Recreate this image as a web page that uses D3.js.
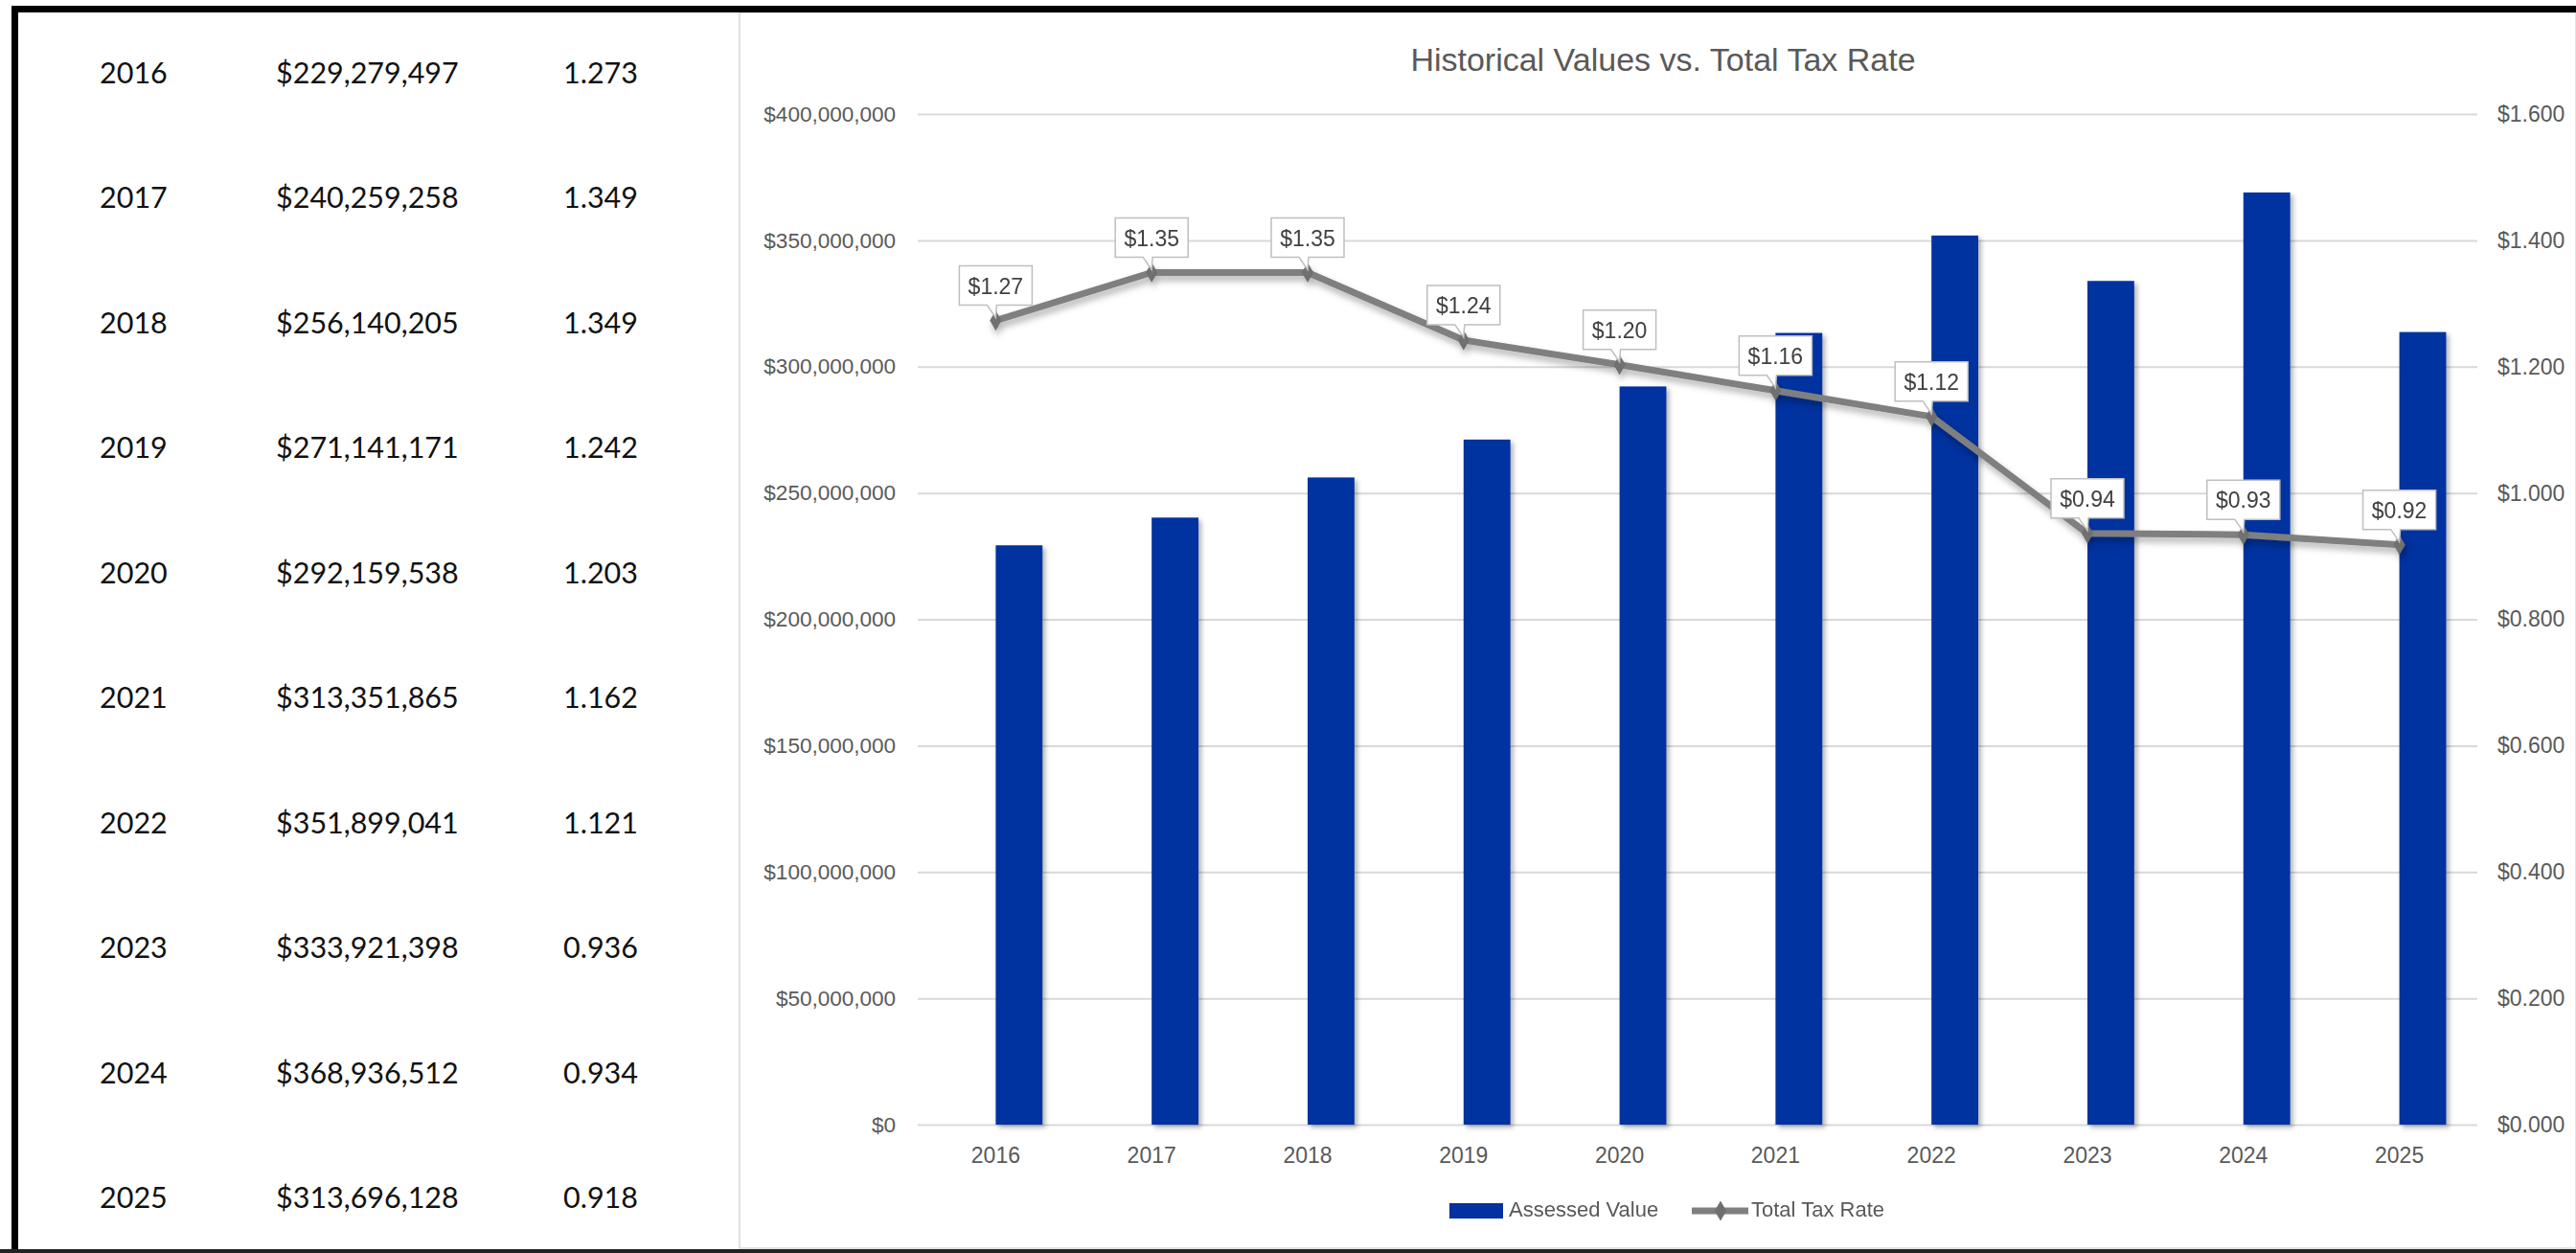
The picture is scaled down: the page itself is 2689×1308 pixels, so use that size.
<!DOCTYPE html>
<html>
<head>
<meta charset="utf-8">
<script src="https://cdn.jsdelivr.net/npm/d3@7"></script>
<style>
  body { margin: 0; background: #fff; }
  svg { display: block; }
</style>
</head>
<body>
<svg id="chart"></svg>
<script>
// data
const years = ["2016", "2017", "2018", "2019", "2020", "2021", "2022", "2023", "2024", "2025"];
const assessedValues = [229279497, 240259258, 256140205, 271141171, 292159538, 313351865, 351899041, 333921398, 368936512, 313696128];
const taxRates = [1.273, 1.349, 1.349, 1.242, 1.203, 1.162, 1.121, 0.936, 0.934, 0.918];
const valueTicks = [0, 50000000, 100000000, 150000000, 200000000, 250000000, 300000000, 350000000, 400000000];
const rateTicks = [0, 0.2, 0.4, 0.6, 0.8, 1.0, 1.2, 1.4, 1.6];

const W = 2689, H = 1308;
const chartFont = "'Liberation Sans', Arial, sans-serif";
const tableFont = "Lato, 'Open Sans', sans-serif";
const barColor = "#0431a0";
const lineColor = "#7f7f7f";
const textGrey = "#595959";

const svg = d3.select("#chart").attr("width", W).attr("height", H);

const defs = svg.append("defs");
defs.append("filter").attr("id", "shadow")
    .attr("x", "-20%").attr("y", "-20%").attr("width", "150%").attr("height", "150%")
  .append("feDropShadow")
    .attr("dx", 3).attr("dy", 3).attr("stdDeviation", 2.5)
    .attr("flood-color", "#000").attr("flood-opacity", 0.3);
defs.append("filter").attr("id", "lineShadow")
    .attr("x", "-10%").attr("y", "-30%").attr("width", "120%").attr("height", "160%")
  .append("feDropShadow")
    .attr("dx", 2).attr("dy", 5).attr("stdDeviation", 3.5)
    .attr("flood-color", "#000").attr("flood-opacity", 0.3);

// frame
svg.append("rect").attr("width", W).attr("height", H).attr("fill", "#fff");
svg.append("rect").attr("x", 772).attr("y", 13).attr("width", W - 772).attr("height", 1290)
   .attr("fill", "#fff").attr("stroke", "#d9d9d9").attr("stroke-width", 1.5);
svg.append("rect").attr("x", 12).attr("y", 6).attr("width", W - 12).attr("height", 7).attr("fill", "#000");
svg.append("rect").attr("x", 12).attr("y", 6).attr("width", 7).attr("height", H - 6).attr("fill", "#000");
svg.append("rect").attr("x", 0).attr("y", 1304).attr("width", W).attr("height", 4).attr("fill", "#222");

// table on the left
const fmtMoney = d3.format("$,");
const fmtRate = d3.format(".3f");
const rowY = d3.scaleLinear().domain([0, years.length - 1]).range([76, 1250]);
const table = svg.append("g").attr("font-family", tableFont).attr("font-size", 30.5).attr("fill", "#111");
years.forEach((yr, i) => {
  const by = rowY(i) + 11;
  table.append("text").attr("x", 104).attr("y", by).text(yr);
  table.append("text").attr("x", 288).attr("y", by).text(fmtMoney(assessedValues[i]));
  table.append("text").attr("x", 588).attr("y", by).text(fmtRate(taxRates[i]));
});

// chart
const plotL = 958, plotR = 2586, plotT = 119, plotB = 1174;
const x = d3.scaleBand().domain(years).range([plotL, plotR]);
const yVal = d3.scaleLinear().domain([0, 400000000]).range([plotB, plotT]);
const yRate = d3.scaleLinear().domain([0, 1.6]).range([plotB, plotT]);

svg.append("text")
   .attr("x", 1736).attr("y", 74)
   .attr("text-anchor", "middle")
   .attr("font-family", chartFont).attr("font-size", 34).attr("fill", textGrey)
   .text("Historical Values vs. Total Tax Rate");

const leftAxis = svg.append("g")
   .attr("transform", `translate(${plotL},0)`)
   .call(d3.axisLeft(yVal).tickValues(valueTicks).tickFormat(fmtMoney)
           .tickSize(-(plotR - plotL)).tickPadding(23));
leftAxis.select(".domain").remove();
leftAxis.selectAll("line").attr("stroke", "#d9d9d9").attr("stroke-width", 2);
leftAxis.selectAll("text").attr("font-family", chartFont).attr("font-size", 22.5).attr("fill", textGrey);

const rightAxis = svg.append("g")
   .attr("transform", `translate(${plotR},0)`)
   .call(d3.axisRight(yRate).tickValues(rateTicks).tickFormat(d3.format("$.3f"))
           .tickSize(0).tickPadding(21));
rightAxis.select(".domain").remove();
rightAxis.selectAll("text").attr("font-family", chartFont).attr("font-size", 23).attr("fill", textGrey);

const bottomAxis = svg.append("g")
   .attr("transform", `translate(0,${plotB})`)
   .call(d3.axisBottom(x).tickSize(0).tickPadding(24));
bottomAxis.select(".domain").remove();
bottomAxis.selectAll("text").attr("font-family", chartFont).attr("font-size", 23).attr("fill", textGrey);

// bars sit just right of the category centre
const barW = x.bandwidth() * 0.3;
svg.append("g").attr("filter", "url(#shadow)")
  .selectAll("rect")
  .data(assessedValues).enter()
  .append("rect")
  .attr("x", (d, i) => x(years[i]) + x.bandwidth() / 2)
  .attr("y", d => yVal(d))
  .attr("width", barW)
  .attr("height", d => plotB - yVal(d))
  .attr("fill", barColor);

// tax rate line
const pts = taxRates.map((r, i) => [x(years[i]) + x.bandwidth() / 2, yRate(r)]);
const lineG = svg.append("g").attr("filter", "url(#lineShadow)");
lineG.append("path")
  .attr("d", d3.line()(pts))
  .attr("fill", "none").attr("stroke", lineColor).attr("stroke-width", 7)
  .attr("stroke-linejoin", "round");
lineG.selectAll(".mark")
  .data(pts).enter()
  .append("path")
  .attr("class", "mark")
  .attr("transform", d => `translate(${d[0]},${d[1]})`)
  .attr("d", d3.symbol().type(d3.symbolDiamond).size(130))
  .attr("fill", "#6f6f6f");

// callout labels
const fmtLabel = d3.format("$.2f");
const labels = svg.append("g").attr("font-family", chartFont).attr("font-size", 23);
pts.forEach((p, i) => {
  const bw = 76, bh = 41;
  const cx = p[0], bBot = p[1] - 16, bTop = bBot - bh;
  const l = cx - bw / 2, r = cx + bw / 2;
  const d = `M${l},${bTop} H${r} V${bBot} H${cx + 1} L${p[0]},${p[1] - 3} L${cx - 9},${bBot} H${l} Z`;
  labels.append("path").attr("d", d).attr("fill", "#fff").attr("stroke", "#bfbfbf").attr("stroke-width", 1.5);
  labels.append("text").attr("x", cx).attr("y", bTop + 29)
    .attr("text-anchor", "middle").attr("fill", "#404040")
    .text(fmtLabel(taxRates[i]));
});

// legend
const legend = svg.append("g").attr("font-family", chartFont).attr("font-size", 22).attr("fill", textGrey);
legend.append("rect").attr("x", 1513).attr("y", 1256).attr("width", 56).attr("height", 16).attr("fill", barColor);
legend.append("text").attr("x", 1575).attr("y", 1270).text("Assessed Value");
legend.append("line").attr("x1", 1766).attr("x2", 1825).attr("y1", 1264).attr("y2", 1264)
  .attr("stroke", lineColor).attr("stroke-width", 7);
legend.append("path").attr("transform", "translate(1796,1264)")
  .attr("d", d3.symbol().type(d3.symbolDiamond).size(130)).attr("fill", "#6f6f6f");
legend.append("text").attr("x", 1828).attr("y", 1270).text("Total Tax Rate");
</script>
</body>
</html>
